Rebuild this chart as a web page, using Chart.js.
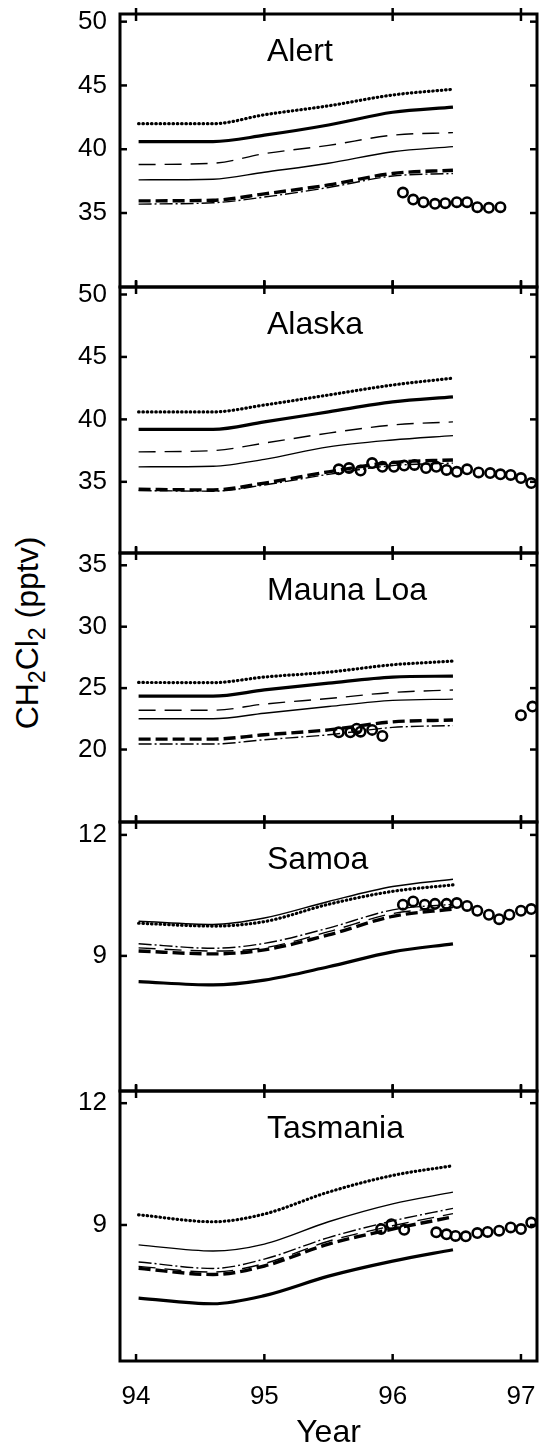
<!DOCTYPE html>
<html>
<head>
<meta charset="utf-8">
<script src="https://cdn.jsdelivr.net/npm/chart.js@4.4.1/dist/chart.umd.min.js"></script>
<style>
  body { margin: 0; background: #fff; width: 539px; height: 1456px; position: relative; overflow: hidden; font-family: "Liberation Sans", Arial, sans-serif; }
  .panel { position: absolute; left: 0; width: 539px; }
  #ylab { position: absolute; left: 27px; top: 633px; transform: translate(-50%, -50%) rotate(-90deg); white-space: nowrap; font-size: 32px; color: #000; }
  #ylab sub { font-size: 23px; vertical-align: -7px; line-height: 0; }
</style>
</head>
<body>
<div id="ylab">CH<sub>2</sub>Cl<sub>2</sub> (pptv)</div>
<script>
// model curves are sampled at these years
const years = [94.02, 94.6, 95.0, 95.5, 96.0, 96.47];
const xTicks = [94, 95, 96, 97];
const stations = ['Alert', 'Alaska', 'Mauna Loa', 'Samoa', 'Tasmania'];
const yTicks = [[35, 40, 45, 50], [35, 40, 45, 50], [20, 25, 30, 35], [9, 12], [9, 12]];
const yMins = [29.2, 29.3, 14.1, 5.65, 5.65];
const yMaxs = [50.6, 50.6, 36.0, 12.32, 12.3];

// Alert
const alertDotted    = [42.0, 42.0, 42.7, 43.4, 44.25, 44.7];
const alertThick     = [40.6, 40.6, 41.1, 41.9, 42.9, 43.3];
const alertLongDash  = [38.8, 38.9, 39.65, 40.3, 41.1, 41.3];
const alertThin      = [37.6, 37.65, 38.2, 38.9, 39.8, 40.2];
const alertThickDash = [35.95, 36.0, 36.5, 37.2, 38.1, 38.35];
const alertDashDot   = [35.7, 35.8, 36.25, 37.0, 37.9, 38.1];
const alertObsX = [96.08, 96.16, 96.24, 96.33, 96.41, 96.50, 96.58, 96.66, 96.75, 96.84];
const alertObsY = [36.6, 36.05, 35.85, 35.72, 35.77, 35.85, 35.85, 35.46, 35.41, 35.46];

// Alaska
const alaskaDotted    = [40.6, 40.6, 41.15, 41.95, 42.75, 43.3];
const alaskaThick     = [39.2, 39.2, 39.8, 40.6, 41.4, 41.8];
const alaskaLongDash  = [37.4, 37.5, 38.1, 38.9, 39.55, 39.8];
const alaskaThin      = [36.2, 36.25, 36.8, 37.8, 38.35, 38.7];
const alaskaThickDash = [34.4, 34.35, 34.9, 35.8, 36.55, 36.75];
const alaskaDashDot   = [34.3, 34.25, 34.75, 35.6, 36.3, 36.5];
const alaskaObsX = [95.58, 95.66, 95.75, 95.84, 95.92, 96.01, 96.09, 96.17, 96.26, 96.34, 96.42, 96.5, 96.58, 96.67, 96.76, 96.84, 96.92, 97.0, 97.08];
const alaskaObsY = [36.0, 36.1, 35.9, 36.5, 36.2, 36.2, 36.3, 36.35, 36.1, 36.2, 35.95, 35.8, 36.0, 35.75, 35.7, 35.6, 35.55, 35.3, 34.9];

// Mauna Loa
const maunaDotted    = [25.46, 25.45, 25.9, 26.3, 26.9, 27.2];
const maunaThick     = [24.35, 24.35, 24.85, 25.4, 25.9, 25.98];
const maunaLongDash  = [23.2, 23.2, 23.7, 24.15, 24.65, 24.85];
const maunaThin      = [22.5, 22.5, 22.95, 23.5, 24.0, 24.1];
const maunaThickDash = [20.85, 20.85, 21.2, 21.6, 22.25, 22.4];
const maunaDashDot   = [20.45, 20.45, 20.8, 21.2, 21.8, 21.95];
const maunaObsX = [95.58, 95.67, 95.72, 95.75, 95.84, 95.92, 97.0, 97.09];
const maunaObsY = [21.4, 21.4, 21.7, 21.45, 21.6, 21.1, 22.8, 23.5];

// Samoa
const samoaDotted    = [9.81, 9.74, 9.85, 10.28, 10.6, 10.76];
const samoaThick     = [8.36, 8.28, 8.4, 8.73, 9.1, 9.3];
const samoaLongDash  = [9.2, 9.12, 9.2, 9.6, 10.05, 10.2];
const samoaThin      = [9.86, 9.78, 9.94, 10.35, 10.72, 10.9];
const samoaThickDash = [9.12, 9.05, 9.15, 9.52, 9.98, 10.16];
const samoaDashDot   = [9.3, 9.19, 9.31, 9.69, 10.14, 10.28];
const samoaObsX = [96.08, 96.16, 96.25, 96.33, 96.42, 96.5, 96.58, 96.66, 96.75, 96.83, 96.91, 97.0, 97.08];
const samoaObsY = [10.27, 10.35, 10.27, 10.29, 10.29, 10.31, 10.24, 10.12, 10.02, 9.91, 10.02, 10.12, 10.16];

// Tasmania
const tasDotted    = [9.25, 9.08, 9.27, 9.81, 10.22, 10.46];
const tasThick     = [7.2, 7.06, 7.26, 7.74, 8.11, 8.39];
const tasLongDash  = [7.98, 7.84, 8.05, 8.6, 8.98, 9.28];
const tasThin      = [8.51, 8.36, 8.53, 9.08, 9.52, 9.81];
const tasThickDash = [7.93, 7.78, 7.99, 8.53, 8.9, 9.2];
const tasDashDot   = [8.09, 7.93, 8.16, 8.69, 9.1, 9.41];
const tasObsX = [95.91, 95.99, 96.09, 96.34, 96.42, 96.49, 96.57, 96.66, 96.74, 96.83, 96.92, 97.0, 97.08];
const tasObsY = [8.9, 9.02, 8.88, 8.82, 8.77, 8.73, 8.72, 8.8, 8.83, 8.86, 8.94, 8.9, 9.06];

const panels = [
  [alertDotted, alertThick, alertLongDash, alertThin, alertThickDash, alertDashDot, alertObsX, alertObsY],
  [alaskaDotted, alaskaThick, alaskaLongDash, alaskaThin, alaskaThickDash, alaskaDashDot, alaskaObsX, alaskaObsY],
  [maunaDotted, maunaThick, maunaLongDash, maunaThin, maunaThickDash, maunaDashDot, maunaObsX, maunaObsY],
  [samoaDotted, samoaThick, samoaLongDash, samoaThin, samoaThickDash, samoaDashDot, samoaObsX, samoaObsY],
  [tasDotted, tasThick, tasLongDash, tasThin, tasThickDash, tasDashDot, tasObsX, tasObsY]
];

const FONT = '"Liberation Sans", Arial, sans-serif';
const panelTops = [14, 287, 553, 822, 1091];
const panelBottoms = [287, 553, 822, 1091, 1361];
const PAD = 14;

const pts = (xs, ys) => xs.map((x, i) => ({ x, y: ys[i] }));
const curve = (vals, style) => Object.assign({
  data: pts(years, vals), showLine: true, pointRadius: 0, borderColor: '#000',
  fill: false, cubicInterpolationMode: 'monotone'
}, style);

// inward tick marks, frame and station name
const frame = {
  id: 'frame',
  afterDraw(chart, args, opts) {
    const { ctx, chartArea: a, scales } = chart;
    const seg = (x1, y1, x2, y2) => { ctx.beginPath(); ctx.moveTo(x1, y1); ctx.lineTo(x2, y2); ctx.stroke(); };
    ctx.save();
    ctx.strokeStyle = '#000';
    ctx.lineWidth = 2.5;
    xTicks.forEach(v => {
      const px = scales.x.getPixelForValue(v);
      seg(px, a.top - 6, px, a.top + 7);
      seg(px, a.bottom, px, a.bottom - 7);
    });
    opts.ticks.forEach(v => {
      const py = scales.y.getPixelForValue(v);
      seg(a.left, py, a.left + 7, py);
      seg(a.right, py, a.right - 7, py);
    });
    ctx.lineWidth = 3;
    ctx.strokeRect(a.left, a.top, a.right - a.left, a.bottom - a.top);
    ctx.fillStyle = '#000';
    ctx.font = '32px ' + FONT;
    ctx.textAlign = 'left';
    ctx.textBaseline = 'alphabetic';
    ctx.fillText(opts.title, a.left + 147, a.top + 47);
    ctx.restore();
  }
};

panels.forEach((p, i) => {
  const last = i === panels.length - 1;
  const top = panelTops[i] - PAD;
  const h = last ? 1456 - top : panelBottoms[i] - panelTops[i] + 2 * PAD;
  const box = document.createElement('div');
  box.className = 'panel';
  box.style.top = top + 'px';
  box.style.height = h + 'px';
  const cv = document.createElement('canvas');
  box.appendChild(cv);
  document.body.appendChild(box);

  new Chart(cv, {
    type: 'scatter',
    data: {
      datasets: [
        curve(p[0], { borderWidth: 3.2, borderDash: [0.5, 3.8], borderCapStyle: 'round' }),
        curve(p[1], { borderWidth: 3.2 }),
        curve(p[2], { borderWidth: 1.4, borderDash: [17, 9] }),
        curve(p[3], { borderWidth: 1.4 }),
        curve(p[4], { borderWidth: 3.4, borderDash: [12, 5] }),
        curve(p[5], { borderWidth: 1.4, borderDash: [13, 3, 2, 3] }),
        {
          data: pts(p[6], p[7]), showLine: false, pointStyle: 'circle',
          pointRadius: 4.7, pointBorderWidth: 2.6, pointBorderColor: '#000',
          pointBackgroundColor: 'rgba(0,0,0,0)'
        }
      ]
    },
    options: {
      responsive: true, maintainAspectRatio: false, animation: false, devicePixelRatio: 1,
      layout: { autoPadding: false, padding: { top: PAD, bottom: last ? 0 : PAD, left: 0, right: 2 } },
      plugins: {
        legend: { display: false }, tooltip: { enabled: false },
        frame: { ticks: yTicks[i], title: stations[i] }
      },
      scales: {
        x: {
          type: 'linear', min: 93.875, max: 97.125, display: last,
          afterBuildTicks: s => { s.ticks = xTicks.map(v => ({ value: v })); },
          afterFit: s => { if (last) s.height = 95; s.paddingLeft = 0; s.paddingRight = 0; },
          grid: { display: false, drawTicks: false }, border: { display: false },
          ticks: { color: '#000', font: { size: 26, family: FONT }, padding: 20, autoSkip: false, maxRotation: 0 },
          title: { display: true, text: 'Year', color: '#000', font: { size: 32, family: FONT }, padding: { top: 20 } }
        },
        y: {
          min: yMins[i], max: yMaxs[i],
          afterBuildTicks: s => { s.ticks = yTicks[i].map(v => ({ value: v })); },
          afterFit: s => { s.width = 120; s.paddingTop = 0; s.paddingBottom = 0; },
          grid: { display: false, drawTicks: false }, border: { display: false },
          ticks: { color: '#000', font: { size: 26, family: FONT }, padding: 13, autoSkip: false }
        }
      }
    },
    plugins: [frame]
  });
});
</script>
</body>
</html>
